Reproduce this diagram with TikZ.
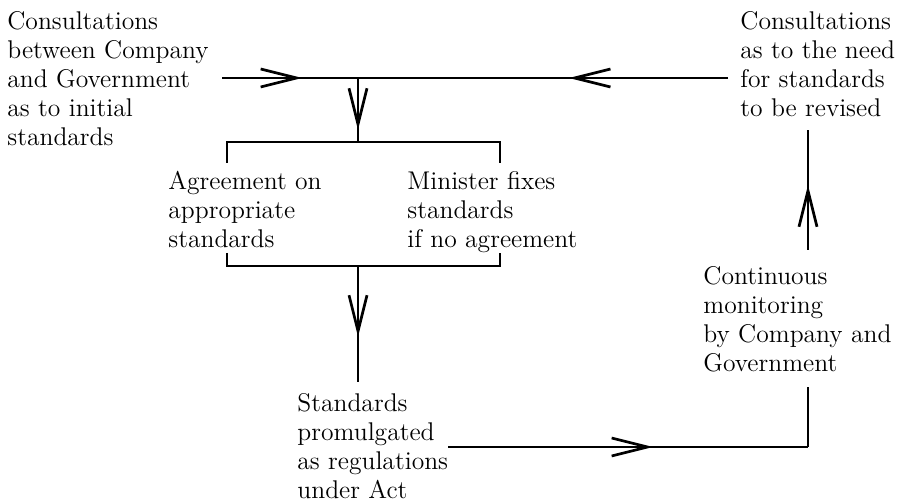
\documentclass[tikz,border=0pt]{standalone}
\usetikzlibrary{arrows.meta, decorations.markings}
\tikzset{
>={Straight Barb[length=18pt, width=9pt]}, % open barbs as in the print
flow/.style={line width=1.35pt},
tipat/.style={postaction={decorate}, decoration={markings, mark=at position #1 with {\arrow{>}}}}, % arrow head part way along
every node/.style={font=\fontsize{12.8}{14.5}\selectfont, align=left, inner sep=0pt, anchor=north west},
}

\begin{document}
\begin{tikzpicture}[x=0.5pt, y=-0.5pt]
    \useasboundingbox (0,0) rectangle (904,501);

    \node (init) at (7,11) {Consultations\\between Company\\and Government\\as to initial\\standards};
    \node (revise) at (740,11) {Consultations\\as to the need\\for standards\\to be revised};
    \node (agree) at (168,171) {Agreement on\\appropriate\\standards};
    \node (minister) at (407,171) {Minister fixes\\standards\\if no agreement};
    \node (monitor) at (703,266) {Continuous\\monitoring\\by Company and\\Government};
    \node (promul) at (297,393) {Standards\\promulgated\\as regulations\\under Act};

    \coordinate (inA) at (222,78);
    \coordinate (junc) at (358,78);
    \coordinate (inB) at (728,78);
    \coordinate (splitT) at (358,142);
    \coordinate (topL) at (227,163);
    \coordinate (topR) at (500,163);
    \coordinate (botL) at (227,253);
    \coordinate (botR) at (500,253);
    \coordinate (splitB) at (358,266);
    \coordinate (promTop) at (358,382);
    \coordinate (outA) at (448,447);
    \coordinate (outC) at (808,447);
    \coordinate (monB) at (808,387);
    \coordinate (monT) at (808,250);
    \coordinate (revB) at (808,130);

    \draw[flow, tipat=0.59] (inA) -- (junc);
    \draw[flow, tipat=0.43] (inB) -- (junc);
    \draw[flow, tipat=0.81] (junc) -- (splitT);
    \draw[flow] (topL) |- (splitT) -| (topR);
    \draw[flow] (botL) |- (splitB) -| (botR);
    \draw[flow, tipat=0.61] (splitB) -- (promTop);
    \draw[flow, tipat=0.57] (outA) -- (outC);
    \draw[flow] (outC) -- (monB);
    \draw[flow, tipat=0.54] (monT) -- (revB);
\end{tikzpicture}
\end{document}
